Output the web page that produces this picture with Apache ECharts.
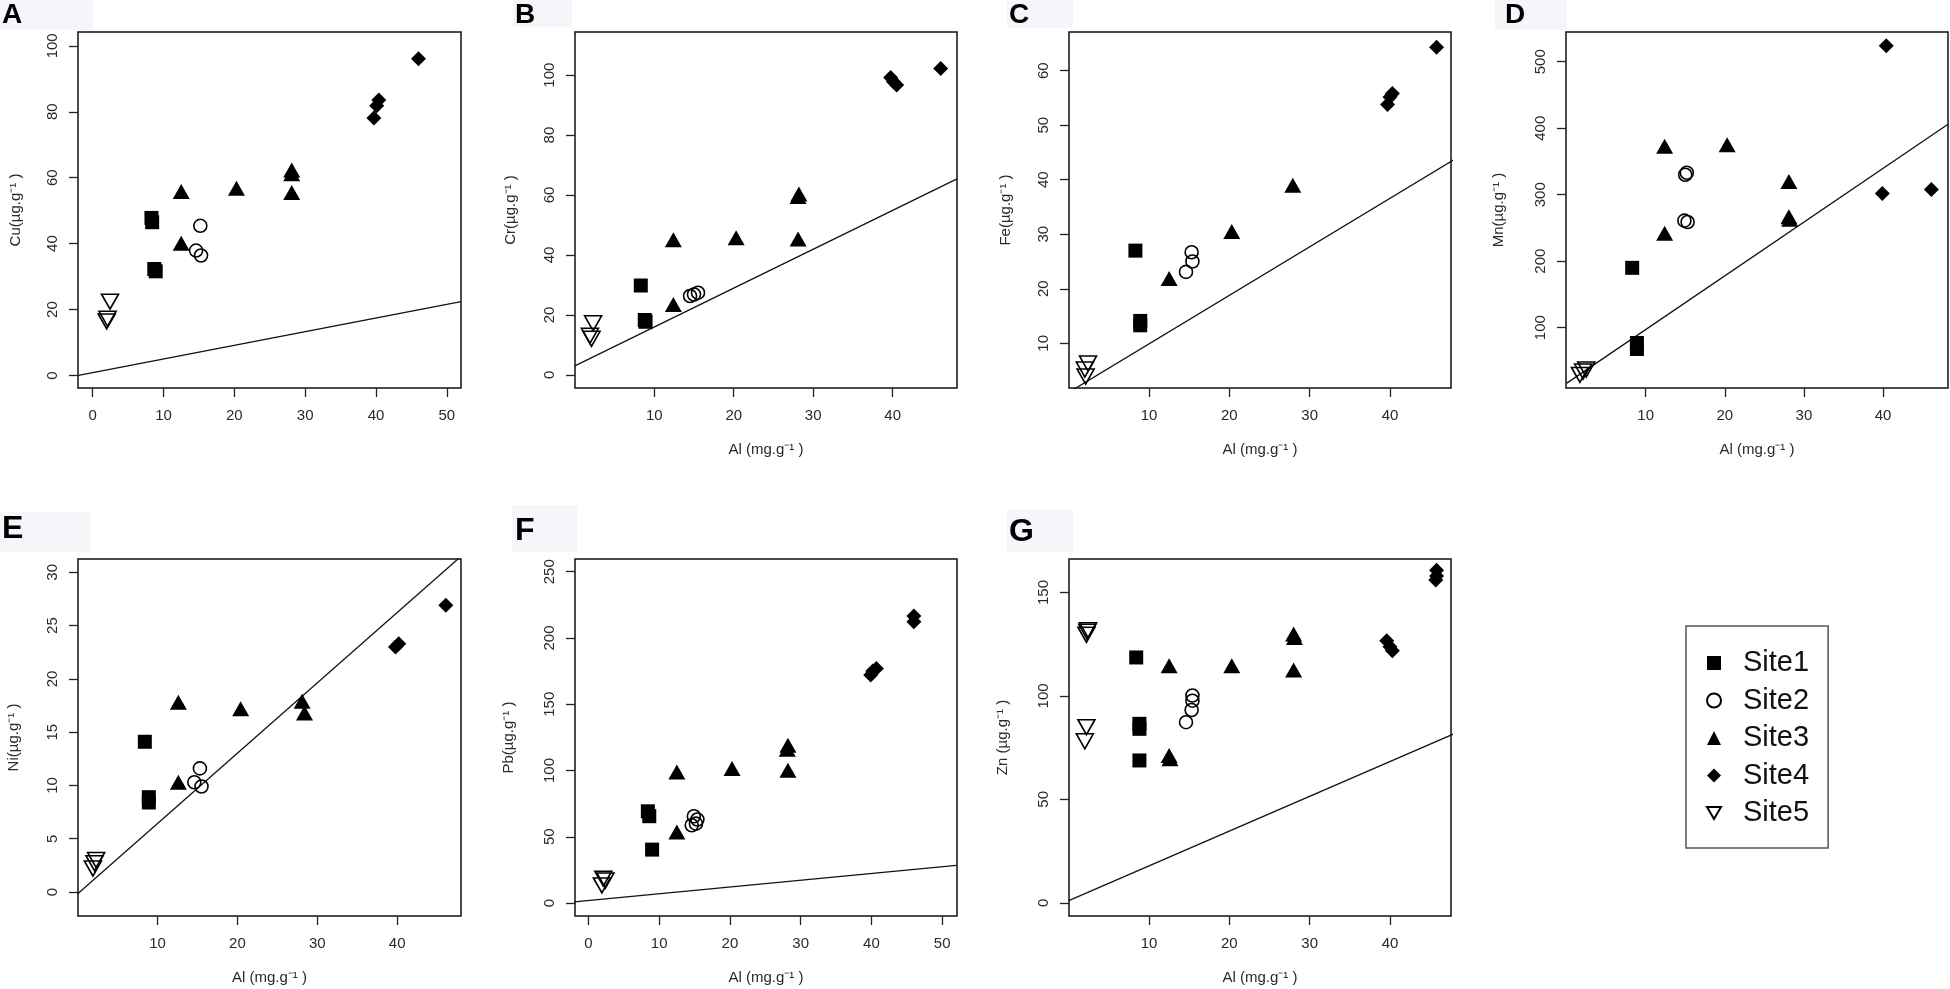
<!DOCTYPE html>
<html lang="en">

<head>
    <meta charset="UTF-8">
    <title>Metals vs Al</title>
    <script src="https://cdn.jsdelivr.net/npm/echarts@6/dist/echarts.min.js"></script>
    <style>
        html, body { margin: 0; padding: 0; background: #fff; }
    </style>
</head>

<body>
    <div id="main" style="width: 1950px; height: 989px;"></div>
    <script>
    const sites = ['Site1', 'Site2', 'Site3', 'Site4', 'Site5']

    // one list of [Al, metal] pairs per site
    const cu = [
        [[8.3, 47.8], [8.4, 46.5], [8.7, 32.3], [8.9, 31.6]],
        [[15.2, 45.4], [14.6, 37.9], [15.3, 36.4]],
        [[12.5, 55.8], [12.5, 40.1], [20.3, 56.8], [28.1, 62.3], [28.1, 61.2], [28.1, 55.5]],
        [[39.7, 78.1], [40.1, 81.8], [40.4, 83.6], [46.0, 96.1]],
        [[2.45, 22.4], [1.98, 16.4], [2.1, 17.2]]
    ]
    const cr = [
        [[8.3, 29.8], [8.8, 18.3], [8.9, 17.7]],
        [[14.5, 26.3], [15.0, 26.8], [15.5, 27.4]],
        [[12.4, 45.1], [12.4, 23.5], [20.3, 45.7], [28.1, 59.5], [28.2, 60.3], [28.1, 45.3]],
        [[39.75, 99.2], [40.1, 97.8], [40.5, 96.7], [46.05, 102.2]],
        [[2.3, 17.2], [1.9, 13.0], [2.1, 12.0]]
    ]
    const fe = [
        [[8.3, 27.0], [8.9, 14.1], [8.9, 13.3]],
        [[15.3, 26.7], [15.4, 25.0], [14.6, 23.1]],
        [[12.5, 21.9], [20.3, 30.5], [27.9, 39.0]],
        [[39.7, 53.8], [40.0, 55.2], [40.3, 55.8], [45.8, 64.3]],
        [[2.4, 6.3], [2.0, 5.2], [2.1, 3.9]]
    ]
    const mn = [
        [[8.3, 190], [8.9, 77], [8.9, 68]],
        [[15.2, 333], [15.0, 330], [14.9, 261], [15.3, 259]],
        [[12.4, 373], [12.4, 242], [20.3, 375], [28.1, 320], [28.1, 267], [28.2, 263]],
        [[40.4, 524], [39.9, 302], [46.1, 308]],
        [[2.1, 34], [1.7, 29], [2.5, 37]]
    ]
    const ni = [
        [[8.4, 14.1], [8.9, 8.9], [8.9, 8.4]],
        [[15.3, 11.6], [14.6, 10.3], [15.5, 9.9]],
        [[12.6, 17.8], [12.6, 10.3], [20.4, 17.2], [28.1, 17.9], [28.4, 16.8]],
        [[39.8, 23.0], [40.2, 23.3], [46.1, 26.9]],
        [[2.1, 2.7], [2.3, 3.0], [1.9, 2.2]]
    ]
    const pb = [
        [[8.4, 69.2], [8.6, 65.5], [9.0, 40.3]],
        [[14.9, 65.5], [15.2, 59.9], [14.6, 58.7], [15.4, 63]],
        [[12.5, 98.9], [12.5, 53.6], [20.3, 101.5], [28.2, 119.1], [28.1, 116], [28.2, 100.2]],
        [[39.9, 172], [40.2, 175], [40.7, 177], [46.0, 216.5], [46.0, 212.2]],
        [[2.1, 18.4], [1.9, 13.3], [2.4, 17]]
    ]
    const zn = [
        [[8.4, 118.6], [8.8, 86.5], [8.8, 84.1], [8.8, 68.8]],
        [[15.4, 100.2], [15.4, 97.7], [15.3, 93.2], [14.6, 87.3]],
        [[12.5, 114.6], [12.5, 71.2], [12.6, 69.6], [20.3, 114.6], [28.0, 129.9], [28.1, 128.3], [28.0, 112.5]],
        [[39.6, 126.7], [40.0, 123.8], [40.3, 121.9], [45.8, 160.8], [45.8, 158], [45.7, 156]],
        [[2.4, 131.8], [2.2, 129.6], [2.3, 131], [2.2, 84.9], [2.0, 78.1]]
    ]

    // reference lines, end points
    const cuLine = [[-2, 0], [52, 22.4]]
    const crLine = [[0, 3.0], [48.1, 65.4]]
    const feLine = [[0, 1.0], [48, 43.7]]
    const mnLine = [[0, 16.3], [48.2, 406]]
    const niLine = [[0, -0.16], [48, 31.5]]
    const pbLine = [[-2, 0.8], [52, 28.4]]
    const znLine = [[0, 1], [48, 81.7]]

    // tick labels
    const ticksX0 = [0, 10, 20, 30, 40, 50]
    const ticksX10 = [10, 20, 30, 40]
    const ticksCu = [0, 20, 40, 60, 80, 100]
    const ticksCr = [0, 20, 40, 60, 80, 100]
    const ticksFe = [10, 20, 30, 40, 50, 60]
    const ticksMn = [100, 200, 300, 400, 500]
    const ticksNi = [0, 5, 10, 15, 20, 25, 30]
    const ticksPb = [0, 50, 100, 150, 200, 250]
    const ticksZn = [0, 50, 100, 150]

    const xTitle = 'Al (mg.g\u207B\u00B9 )'
    const font = 'Liberation Sans, Arial, Helvetica, sans-serif'

    const panels = [
        { tag: 'A', title: 'Cu(\u00B5g.g\u207B\u00B9 )', pts: cu, line: cuLine, xr: [-2.07, 52], yr: [-3.8, 104.2], xt: ticksX0, yt: ticksCu,
          box: [78, 32, 383, 356], gap: 55, xName: false },
        { tag: 'B', title: 'Cr(\u00B5g.g\u207B\u00B9 )', pts: cr, line: crLine, xr: [0.02, 48.1], yr: [-4.4, 114.4], xt: ticksX10, yt: ticksCr,
          box: [575, 32, 382, 356], gap: 57, xName: true },
        { tag: 'C', title: 'Fe(\u00B5g.g\u207B\u00B9 )', pts: fe, line: feLine, xr: [0.03, 47.6], yr: [1.8, 67.1], xt: ticksX10, yt: ticksFe,
          box: [1069, 32, 382, 356], gap: 56, xName: true },
        { tag: 'D', title: 'Mn(\u00B5g.g\u207B\u00B9 )', pts: mn, line: mnLine, xr: [-0.06, 48.2], yr: [9.3, 544.7], xt: ticksX10, yt: ticksMn,
          box: [1566, 32, 382, 356], gap: 60, xName: true },
        { tag: 'E', title: 'Ni(\u00B5g.g\u207B\u00B9 )', pts: ni, line: niLine, xr: [0.03, 48], yr: [-2.25, 31.25], xt: ticksX10, yt: ticksNi,
          box: [78, 559, 383, 357], gap: 57, xName: true },
        { tag: 'F', title: 'Pb(\u00B5g.g\u207B\u00B9 )', pts: pb, line: pbLine, xr: [-1.9, 52.1], yr: [-9.8, 259.6], xt: ticksX0, yt: ticksPb,
          box: [575, 559, 382, 357], gap: 59, xName: true },
        { tag: 'G', title: 'Zn (\u00B5g.g\u207B\u00B9 )', pts: zn, line: znLine, xr: [0.03, 47.6], yr: [-6.4, 166.2], xt: ticksX10, yt: ticksZn,
          box: [1069, 559, 382, 357], gap: 59, xName: true }
    ]

    // panel letters: position of letter and the faint patch behind it
    const tagLayout = [
        { x: 2, y: 15, size: 28, bg: [0, 0, 93, 30] },
        { x: 515, y: 15, size: 28, bg: [513, 0, 59, 27] },
        { x: 1009, y: 15, size: 28, bg: [1007, 0, 66, 28] },
        { x: 1505, y: 15, size: 28, bg: [1495, 0, 72, 30] },
        { x: 2, y: 529, size: 32, bg: [0, 512, 90, 40] },
        { x: 515, y: 531, size: 32, bg: [512, 505, 65, 47] },
        { x: 1009, y: 532, size: 32, bg: [1007, 510, 66, 42] }
    ]

    const downTri = 'path://M0,0 L10,0 L5,8.7 Z'
    const hollow = { color: 'rgba(255,255,255,0)', borderColor: '#000', borderWidth: 1.6, opacity: 1 }
    const solid = { color: '#000', opacity: 1 }
    const siteStyle = [
        { symbol: 'rect', symbolSize: 14, itemStyle: solid },
        { symbol: 'circle', symbolSize: 13, itemStyle: hollow },
        { symbol: 'triangle', symbolSize: [17, 15], itemStyle: solid },
        { symbol: 'diamond', symbolSize: 15, itemStyle: solid },
        { symbol: downTri, symbolSize: [17, 15], itemStyle: hollow }
    ]

    const grid = []
    const xAxis = []
    const yAxis = []
    const series = []
    const graphic = []

    panels.forEach(function (p, i) {
        grid.push({
            left: p.box[0], top: p.box[1], width: p.box[2], height: p.box[3],
            show: true, borderColor: '#111', borderWidth: 1.5, backgroundColor: 'transparent',
            containLabel: false, outerBoundsMode: 'none'
        })
        xAxis.push({
            gridIndex: i, type: 'value', min: p.xr[0], max: p.xr[1],
            axisLine: { show: false, onZero: false },
            axisTick: { show: true, length: 9, lineStyle: { color: '#222', width: 1.3 }, customValues: p.xt },
            axisLabel: { customValues: p.xt, margin: 20, fontSize: 15, color: '#2a2a2a', fontFamily: font },
            splitLine: { show: false },
            name: p.xName ? xTitle : '', nameLocation: 'middle', nameGap: 54,
            nameTextStyle: { fontSize: 15, color: '#2a2a2a', fontFamily: font }
        })
        yAxis.push({
            gridIndex: i, type: 'value', min: p.yr[0], max: p.yr[1],
            axisLine: { show: false, onZero: false },
            axisTick: { show: true, length: 9, lineStyle: { color: '#222', width: 1.3 }, customValues: p.yt },
            axisLabel: { customValues: p.yt, rotate: 90, margin: 18, fontSize: 15, color: '#2a2a2a', fontFamily: font },
            splitLine: { show: false },
            name: p.title, nameLocation: 'middle', nameGap: p.gap,
            nameTextStyle: { fontSize: 15, color: '#2a2a2a', fontFamily: font }
        })
        series.push({
            name: 'ref' + p.tag, type: 'line', xAxisIndex: i, yAxisIndex: i,
            data: p.line, symbol: 'none', silent: true, clip: true,
            lineStyle: { color: '#111', width: 1.3 }, z: 1
        })
        p.pts.forEach(function (pts, s) {
            series.push(Object.assign({
                name: sites[s], type: 'scatter', xAxisIndex: i, yAxisIndex: i,
                data: pts, z: 2
            }, siteStyle[s]))
        })

        const t = tagLayout[i]
        graphic.push({
            type: 'rect', shape: { x: t.bg[0], y: t.bg[1], width: t.bg[2], height: t.bg[3] },
            style: { fill: '#f6f6fa' }, z: 0, silent: true
        })
        graphic.push({
            type: 'text', x: t.x, y: t.y, z: 1, silent: true,
            style: { text: p.tag, fontSize: t.size, fontWeight: 'bold', fontFamily: font, fill: '#000', verticalAlign: 'middle', align: 'left' }
        })
    })

    const myChart = echarts.init(document.getElementById('main'))
    myChart.setOption({
        animation: false,
        backgroundColor: '#fff',
        textStyle: { fontFamily: font },
        grid: grid,
        xAxis: xAxis,
        yAxis: yAxis,
        legend: {
            data: sites,
            orient: 'vertical',
            left: 1686, top: 626,
            padding: [22, 19, 20, 20],
            itemGap: 7.5, itemWidth: 14, itemHeight: 14,
            symbolKeepAspect: true,
            borderColor: '#555', borderWidth: 1.5, borderRadius: 0,
            selectedMode: false,
            textStyle: { fontSize: 29, lineHeight: 30, color: '#111', fontFamily: font, padding: [0, 0, 0, 17] }
        },
        graphic: graphic,
        series: series
    })
    </script>
</body>

</html>
